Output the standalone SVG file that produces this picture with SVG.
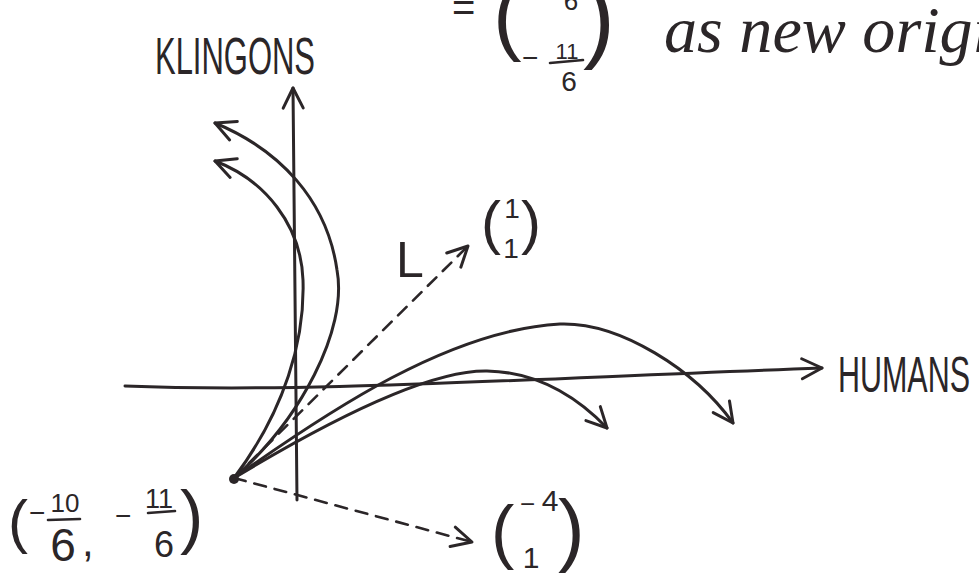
<svg xmlns="http://www.w3.org/2000/svg" width="979" height="575" viewBox="0 0 979 575">
<style>
  .ink{fill:none;stroke:#2b2628;stroke-width:3;stroke-linecap:round;stroke-linejoin:round}
  .dash{stroke-dasharray:12 9;stroke-width:2.6}
  .t{font-family:"Liberation Sans",Arial,sans-serif;fill:#2b2628}
  .s{font-family:"Liberation Serif","Times New Roman",serif;font-style:italic;fill:#2b2628}
  .bar{stroke:#2b2628;stroke-width:2.6;stroke-linecap:round}
</style>
<defs>
  <marker id="arr" viewBox="-24 -14 28 28" markerWidth="28" markerHeight="28" refX="0" refY="0" orient="auto" markerUnits="userSpaceOnUse">
    <path d="M-20,-10 L0,0 L-20,10" fill="none" stroke="#2b2628" stroke-width="3" stroke-linecap="round" stroke-linejoin="round"/>
  </marker>
</defs>
<rect width="979" height="575" fill="#ffffff"/>

<g id="connectors">
  <path id="axis-humans" class="ink" d="M125,386 C300,393 500,380 822,368" marker-end="url(#arr)"/>
  <path id="axis-klingons" class="ink" d="M297,500 L293,88" marker-end="url(#arr)"/>
  <path id="curve-up-outer" class="ink" d="M234,478 C300,420 348,330 337,270 C327,200 280,150 215,123" marker-end="url(#arr)"/>
  <path id="curve-up-inner" class="ink" d="M234,478 C285,410 305,340 303,280 C301,225 265,180 215,161" marker-end="url(#arr)"/>
  <path id="curve-right-long" class="ink" d="M234,478 C330,410 450,330 560,324 C620,322 695,370 733,423" marker-end="url(#arr)"/>
  <path id="curve-right-short" class="ink" d="M234,478 C330,420 430,370 487,371 C540,372 580,400 607,428" marker-end="url(#arr)"/>
  <path id="vec-L" class="ink dash" d="M234,478 L468,246" marker-end="url(#arr)"/>
  <path id="vec-m41" class="ink dash" d="M234,478 L472,542" marker-end="url(#arr)"/>
</g>

<g id="origin">
  <circle cx="234" cy="479" r="5" fill="#2b2628"/>
  <text class="t" x="8" y="542" font-size="60">(</text>
  <text class="t" x="29" y="522" font-size="28">−</text>
  <text class="t" x="65" y="512" font-size="26" text-anchor="middle">10</text>
  <line class="bar" x1="48" y1="520" x2="80" y2="519"/>
  <text class="t" x="63" y="561" font-size="46" text-anchor="middle">6</text>
  <text class="t" x="82" y="556" font-size="42">,</text>
  <text class="t" x="115" y="525" font-size="28">−</text>
  <text class="t" x="159" y="508" font-size="27" text-anchor="middle">11</text>
  <line class="bar" x1="148" y1="513" x2="175" y2="511"/>
  <text class="t" x="164" y="557" font-size="36" text-anchor="middle">6</text>
  <text class="t" x="180" y="540" font-size="70">)</text>
</g>

<g id="label-klingons">
  <text class="t" x="155" y="74" font-size="52" textLength="160" lengthAdjust="spacingAndGlyphs">KLINGONS</text>
</g>

<g id="label-humans">
  <text class="t" x="838" y="392" font-size="50" textLength="132" lengthAdjust="spacingAndGlyphs">HUMANS</text>
</g>

<g id="label-L">
  <text class="t" x="396" y="277" font-size="50">L</text>
</g>

<g id="vec-11">
  <text class="t" x="481" y="243" font-size="60">(</text>
  <text class="t" x="512" y="218" font-size="28" text-anchor="middle">1</text>
  <text class="t" x="511" y="258" font-size="28" text-anchor="middle">1</text>
  <text class="t" x="521" y="243" font-size="60">)</text>
</g>

<g id="vec-m4-1">
  <text class="t" x="491" y="555" font-size="70">(</text>
  <text class="t" x="520" y="513" font-size="26">−</text>
  <text class="t" x="550" y="511" font-size="30" text-anchor="middle">4</text>
  <text class="t" x="531" y="568" font-size="30" text-anchor="middle">1</text>
  <text class="t" x="558" y="556" font-size="80">)</text>
</g>

<g id="new-origin">
  <text class="t" x="452" y="21" font-size="40">=</text>
  <text class="t" x="493" y="44" font-size="86">(</text>
  <text class="t" x="571" y="10" font-size="26" text-anchor="middle">6</text>
  <text class="t" x="522" y="67" font-size="28">−</text>
  <text class="t" x="567" y="59" font-size="22" text-anchor="middle">11</text>
  <line class="bar" x1="550" y1="63" x2="583" y2="60"/>
  <text class="t" x="569" y="91" font-size="28" text-anchor="middle">6</text>
  <text class="t" x="583" y="50" font-size="96">)</text>
  <text class="s" x="664" y="52" font-size="66" textLength="360" lengthAdjust="spacingAndGlyphs">as new origin</text>
</g>
</svg>
